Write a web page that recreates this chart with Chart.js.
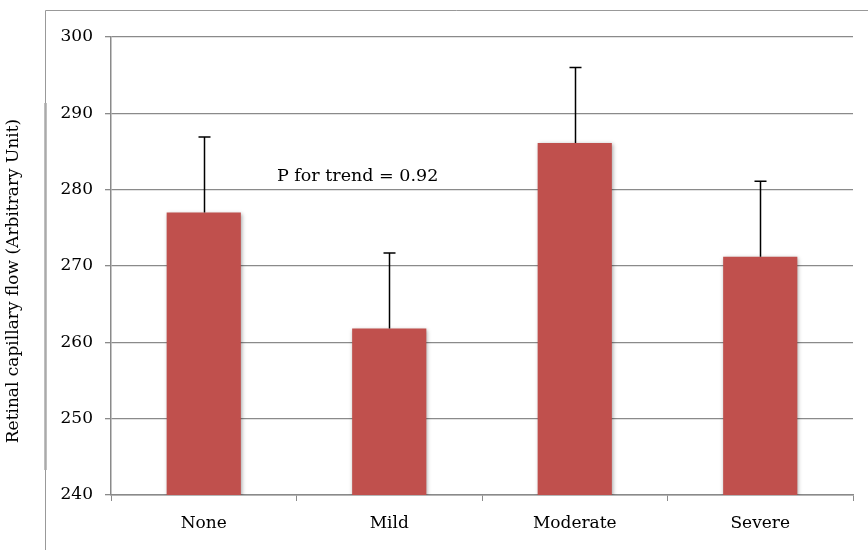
<!DOCTYPE html>
<html>
<head>
<meta charset="utf-8">
<script src="https://cdn.jsdelivr.net/npm/chart.js@4"></script>
<style>
  html, body { margin: 0; padding: 0; background: #fff; }
  #wrap { width: 868px; height: 550px; position: relative; }
</style>
</head>
<body>
<div id="wrap"><canvas id="flowChart" width="868" height="550"></canvas></div>
<script>
const categories = ['None', 'Mild', 'Moderate', 'Severe'];
const flowValues = [277, 261.8, 286.1, 271.2];
const flowErrors = [9.9, 9.9, 9.9, 9.9];
const yTicks = [240, 250, 260, 270, 280, 290, 300];
const yTitle = 'Retinal capillary flow (Arbitrary Unit)';
const trendNote = 'P for trend = 0.92';

const FONT = "'DejaVu Serif', serif";
const GRID = '#8a8a8a';

// frame, axis title and note
const decorPlugin = {
    id: 'decor',
    beforeDraw(chart) {
        const ctx = chart.ctx;
        ctx.save();
        ctx.strokeStyle = '#999';
        ctx.lineWidth = 1;
        ctx.beginPath();
        ctx.moveTo(45.5, 550);
        ctx.lineTo(45.5, 10.5);
        ctx.lineTo(868, 10.5);
        ctx.stroke();
        ctx.lineWidth = 2.5;
        ctx.strokeStyle = '#aaa';
        ctx.beginPath();
        ctx.moveTo(45.5, 103);
        ctx.lineTo(45.5, 470);
        ctx.stroke();
        ctx.restore();
    },
    afterDraw(chart) {
        const ctx = chart.ctx;
        ctx.save();
        ctx.fillStyle = '#000';
        ctx.font = '17px ' + FONT;
        ctx.textAlign = 'center';
        ctx.textBaseline = 'middle';
        ctx.translate(14, 281);
        ctx.rotate(-Math.PI / 2);
        ctx.fillText(yTitle, 0, 0);
        ctx.restore();

        ctx.save();
        ctx.fillStyle = '#000';
        ctx.font = '17.5px ' + FONT;
        ctx.textAlign = 'left';
        ctx.textBaseline = 'middle';
        ctx.fillText(trendNote, 277, 176);
        ctx.restore();
    }
};

// soft shadow under bars
const shadowPlugin = {
    id: 'barShadow',
    beforeDatasetsDraw(chart) {
        const ctx = chart.ctx;
        ctx.save();
        ctx.shadowColor = 'rgba(0,0,0,0.35)';
        ctx.shadowBlur = 4;
        ctx.shadowOffsetX = 1;
        ctx.shadowOffsetY = 1;
    },
    afterDatasetsDraw(chart) {
        chart.ctx.restore();
    }
};

// upper error bars
const errorPlugin = {
    id: 'errorBars',
    afterDatasetsDraw(chart) {
        const ctx = chart.ctx;
        const y = chart.scales.y;
        const meta = chart.getDatasetMeta(0);
        ctx.save();
        ctx.strokeStyle = '#000';
        ctx.lineWidth = 1.5;
        meta.data.forEach((bar, i) => {
            const top = y.getPixelForValue(flowValues[i] + flowErrors[i]);
            const x = Math.round(bar.x) + 0.5;
            ctx.beginPath();
            ctx.moveTo(x, bar.y);
            ctx.lineTo(x, top);
            ctx.moveTo(x - 6, top);
            ctx.lineTo(x + 6, top);
            ctx.stroke();
        });
        ctx.restore();
    }
};

new Chart(document.getElementById('flowChart'), {
    type: 'bar',
    data: {
        labels: categories,
        datasets: [{
            data: flowValues,
            backgroundColor: '#c0504d',
            borderWidth: 0,
            categoryPercentage: 1,
            barPercentage: 0.4
        }]
    },
    options: {
        responsive: false,
        animation: false,
        devicePixelRatio: 1,
        layout: { padding: { left: 0, right: 15, top: 37, bottom: 0 } },
        plugins: {
            legend: { display: false },
            tooltip: { enabled: false }
        },
        scales: {
            x: {
                afterFit: s => { s.height = 55; },
                grid: { offset: true, drawOnChartArea: false, color: GRID, tickLength: 6, lineWidth: 1 },
                border: { color: GRID, width: 1.5 },
                ticks: { color: '#000', font: { family: FONT, size: 17 }, padding: 12 }
            },
            y: {
                min: 240,
                max: 300,
                afterFit: s => { s.width = 111; },
                afterBuildTicks: s => { s.ticks = yTicks.map(v => ({ value: v })); },
                grid: { color: GRID, tickLength: 6, lineWidth: 1.3 },
                border: { color: GRID, width: 1.5 },
                ticks: { color: '#000', font: { family: FONT, size: 17 }, padding: 12 }
            }
        }
    },
    plugins: [decorPlugin, shadowPlugin, errorPlugin]
});
</script>
</body>
</html>
